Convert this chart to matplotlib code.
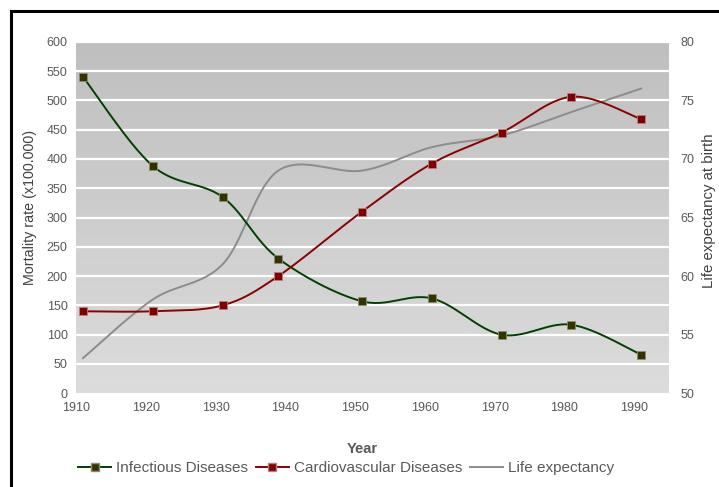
import numpy as np
import matplotlib.pyplot as plt
from matplotlib.lines import Line2D
from matplotlib.colors import LinearSegmentedColormap

plt.rcParams['font.family'] = ['Liberation Sans', 'DejaVu Sans']

years = [1911, 1921, 1931, 1939, 1951, 1961, 1971, 1981, 1991]
infectious = [540, 388, 335, 230, 157, 162, 100, 117, 66]
cardio = [140, 140, 150, 200, 310, 392, 445, 506, 468]
life_exp = [53, 58, 61, 69, 69, 71, 72, 74, 76]

xticks = list(range(1910, 1991, 10))
TXT = '#595959'


def smooth(x, y, n=30):
    # Catmull-Rom style bezier smoothing, like spreadsheet "smoothed line"
    x = np.asarray(x, float)
    y = np.asarray(y, float)
    px, py = [], []
    for i in range(len(x) - 1):
        x0, y0 = (x[i - 1], y[i - 1]) if i > 0 else (x[i], y[i])
        x3, y3 = (x[i + 2], y[i + 2]) if i + 2 < len(x) else (x[i + 1], y[i + 1])
        x1, y1, x2, y2 = x[i], y[i], x[i + 1], y[i + 1]
        c1x, c1y = x1 + (x2 - x0) / 6, y1 + (y2 - y0) / 6
        c2x, c2y = x2 - (x3 - x1) / 6, y2 - (y3 - y1) / 6
        t = np.linspace(0, 1, n)
        a, b, c, d = (1 - t) ** 3, 3 * t * (1 - t) ** 2, 3 * t ** 2 * (1 - t), t ** 3
        px.append(a * x1 + b * c1x + c * c2x + d * x2)
        py.append(a * y1 + b * c1y + c * c2y + d * y2)
    return np.concatenate(px), np.concatenate(py)


fig = plt.figure(figsize=(7.19, 4.87), dpi=100)
W, H = 719, 487
rect = [76 / W, (H - 393.3) / H, (669 - 76) / W, (393.3 - 41.7) / H]

# background axes: grey gradient + white gridlines
bg = fig.add_axes(rect, zorder=0)
cmap = LinearSegmentedColormap.from_list('bg', ['#dcdcdc', '#bfbfbf'])
grad = np.linspace(0, 1, 256).reshape(-1, 1)
bg.imshow(grad, cmap=cmap, aspect='auto', extent=[1910, 1995, 0, 600], origin='lower')
bg.set_xlim(1910, 1995)
bg.set_ylim(0, 600)
for yv in range(50, 601, 50):
    bg.axhline(yv, color='white', lw=1.6)
bg.axis('off')

# life expectancy on right axis
ax2 = fig.add_axes(rect, zorder=1)
ax2.patch.set_visible(False)
ax2.set_xlim(1910, 1995)
ax2.set_ylim(50, 80)
ax2.set_yticks(range(50, 81, 5))
ax2.yaxis.tick_right()
ax2.set_xticks([])
for s in ax2.spines.values():
    s.set_visible(False)
ax2.tick_params(length=0, labelsize=9, colors=TXT, pad=8)
sx, sy = smooth(years, life_exp)
ax2.plot(sx, sy, color='#8c8c8c', lw=1.4)

# mortality series on left axis
ax = fig.add_axes(rect, zorder=2)
ax.patch.set_visible(False)
ax.set_xlim(1910, 1995)
ax.set_ylim(0, 600)
ax.set_yticks(range(0, 601, 50))
ax.set_xticks(xticks)
for s in ax.spines.values():
    s.set_visible(False)
ax.tick_params(length=0, labelsize=9, colors=TXT, pad=6)

sx, sy = smooth(years, infectious)
ax.plot(sx, sy, color='#004000', lw=1.4)
ax.plot(years, infectious, ls='none', marker='s', ms=6, mfc='#333300',
        mec='#8c8c70', mew=0.6)

sx, sy = smooth(years, cardio)
ax.plot(sx, sy, color='#8b0000', lw=1.4)
ax.plot(years, cardio, ls='none', marker='s', ms=6, mfc='#800000',
        mec='#b08080', mew=0.6)

fig.text(30 / W, 1 - 207 / H, 'Mortality rate (x100.000)', rotation=90,
         ha='center', va='center', fontsize=10.3, color='#404040')
fig.text(709 / W, 1 - 211 / H, 'Life expectancy at birth', rotation=90,
         ha='center', va='center', fontsize=10.8, color='#404040')
fig.text(362 / W, 1 - 449 / H, 'Year', ha='center', va='center',
         fontsize=10.5, fontweight='bold', color=TXT)

handles = [
    Line2D([], [], color='#004000', lw=1.4, marker='s', ms=6, mfc='#333300', mec='#8c8c70'),
    Line2D([], [], color='#8b0000', lw=1.4, marker='s', ms=6, mfc='#800000', mec='#b08080'),
    Line2D([], [], color='#8c8c8c', lw=1.4),
]
leg = fig.legend(handles, ['Infectious Diseases', 'Cardiovascular Diseases', 'Life expectancy'],
                 loc='center', bbox_to_anchor=(346 / W, 1 - 468 / H), ncol=3,
                 frameon=False, fontsize=11, handlelength=2.2, handletextpad=0.3,
                 columnspacing=0.5)
for t in leg.get_texts():
    t.set_color(TXT)

# black frame on left and top
fig.add_artist(Line2D([10.5 / W, 10.5 / W], [0, 1 - 11 / H], color='black', lw=2.2,
                      transform=fig.transFigure))
fig.add_artist(Line2D([10.5 / W, 1], [1 - 11 / H, 1 - 11 / H], color='black', lw=2.2,
                      transform=fig.transFigure))

fig.savefig('out.png', dpi=100)
